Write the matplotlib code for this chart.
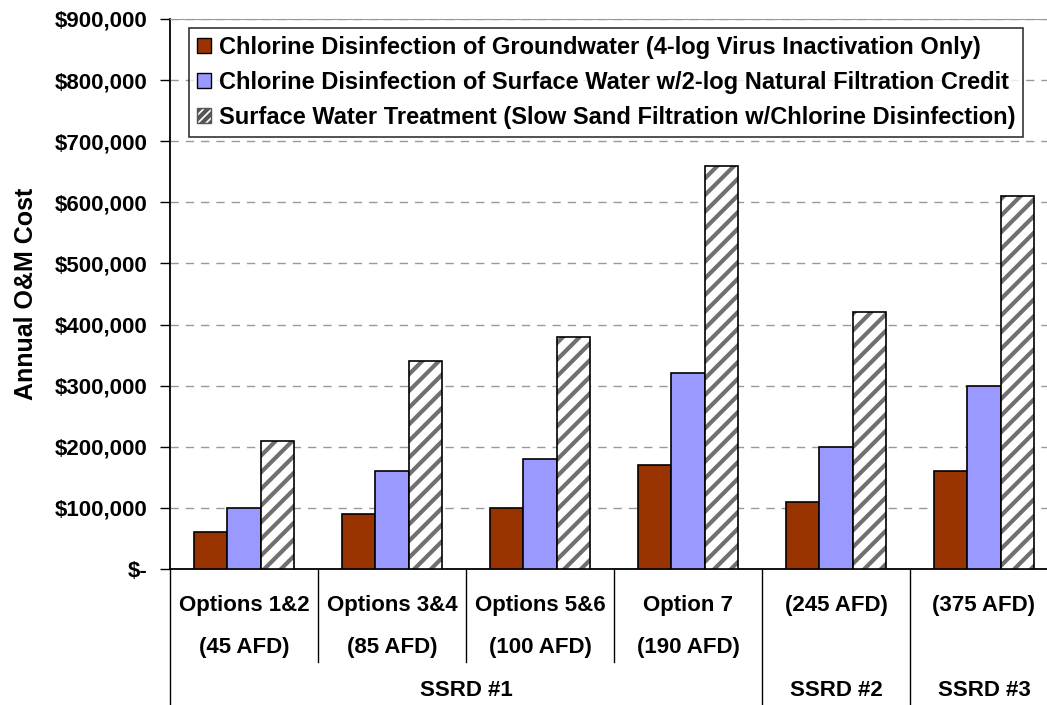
import numpy as np
import matplotlib.pyplot as plt
from matplotlib.patches import Patch
from matplotlib.transforms import blended_transform_factory
from matplotlib.ticker import FuncFormatter

plt.rcParams['font.family'] = ['Liberation Sans', 'DejaVu Sans']
plt.rcParams['font.weight'] = 'bold'
plt.rcParams['hatch.linewidth'] = 3.0

# data
options = ["Options 1&2", "Options 3&4", "Options 5&6", "Option 7", "", ""]
flows = ["(45 AFD)", "(85 AFD)", "(100 AFD)", "(190 AFD)", "(245 AFD)", "(375 AFD)"]
districts = ["SSRD #1", "SSRD #2", "SSRD #3"]
district_span = [(0, 3), (4, 4), (5, 5)]

groundwater = [60000, 90000, 100000, 170000, 110000, 160000]
surface_credit = [100000, 160000, 180000, 320000, 200000, 300000]
slow_sand = [210000, 340000, 380000, 660000, 420000, 610000]

labels = [
    "Chlorine Disinfection of Groundwater (4-log Virus Inactivation Only)",
    "Chlorine Disinfection of Surface Water w/2-log Natural Filtration Credit",
    "Surface Water Treatment (Slow Sand Filtration w/Chlorine Disinfection)",
]

W, H = 1047, 705
fig = plt.figure(figsize=(W / 100, H / 100), dpi=100)
ax = fig.add_axes([170 / W, (H - 569) / H, 888 / W, 550 / H])

x = np.arange(len(flows))
bw = 0.223
ax.bar(x - bw, groundwater, bw, color="#993300", edgecolor="black", linewidth=1.2, zorder=3)
ax.bar(x, surface_credit, bw, color="#9999FF", edgecolor="black", linewidth=1.2, zorder=3)
ax.bar(x + bw, slow_sand, bw, color="white", edgecolor="#707070", hatch="//", linewidth=0, zorder=3)
ax.bar(x + bw, slow_sand, bw, color="none", edgecolor="black", linewidth=1.2, zorder=4)

ax.set_xlim(-0.5, len(flows) - 0.5)
ax.set_ylim(0, 900000)
ax.set_yticks(np.arange(0, 900001, 100000))
ax.yaxis.set_major_formatter(FuncFormatter(lambda v, p: "$-" if v == 0 else f"${v:,.0f}"))
ax.tick_params(axis="y", labelsize=16, length=7, width=1, direction="out", pad=9)
ax.set_xticks([])
ax.grid(axis="y", color="#999999", linestyle=(0, (6, 5)), linewidth=1)
ax.set_axisbelow(True)

for s in ["left", "bottom"]:
    ax.spines[s].set_color("black")
    ax.spines[s].set_linewidth(1.3)
ax.spines["top"].set_color("#999999")
ax.spines["right"].set_color("#999999")

ax.set_ylabel("Annual O&M Cost", fontsize=18, fontweight="bold", labelpad=12)

# category axis labels and separators
tr = blended_transform_factory(ax.transData, fig.transFigure)
for i in range(len(flows)):
    if options[i]:
        ax.text(x[i], 1 - 605 / H, options[i], transform=tr, ha="center", va="center", fontsize=16)
    ax.text(x[i], 1 - 647 / H if options[i] else 1 - 605 / H, flows[i], transform=tr,
            ha="center", va="center", fontsize=16)

boundaries = [d[0] - 0.5 for d in district_span] + [district_span[-1][1] + 0.5]
for i in range(len(flows) + 1):
    b = i - 0.5
    y_end = 0 if b in boundaries else 1 - 662 / H
    ax.plot([b, b], [1 - 569 / H, y_end], transform=tr, color="black", linewidth=1, clip_on=False)

for name, (a, b) in zip(districts, district_span):
    ax.text((x[a] + x[b]) / 2, 1 - 690 / H, name, transform=tr, ha="center", va="center", fontsize=16)

handles = [
    Patch(facecolor="#993300", edgecolor="black"),
    Patch(facecolor="#9999FF", edgecolor="black"),
    Patch(facecolor="white", edgecolor="#555555", hatch="////"),
]
leg = ax.legend(handles, labels, loc="upper left", bbox_to_anchor=(19 / 888, 541 / 550),
                fontsize=17, frameon=True, fancybox=False, borderaxespad=0,
                handlelength=0.6, handleheight=0.6, handletextpad=0.3,
                labelspacing=0.5, borderpad=0.35)
leg.get_frame().set_edgecolor("black")
leg.get_frame().set_linewidth(1.2)
leg.set_zorder(10)

fig.savefig("out.png", dpi=100)
